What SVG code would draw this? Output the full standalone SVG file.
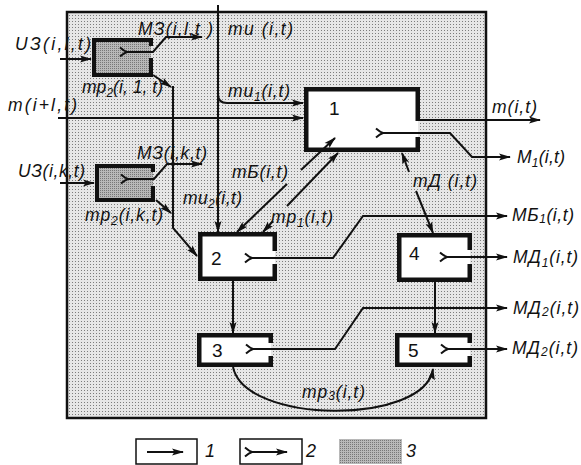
<svg xmlns="http://www.w3.org/2000/svg" width="581" height="465" viewBox="0 0 581 465">
<style>
.ln{fill:none;stroke:#111;stroke-width:2}
.bd{fill:none;stroke:#111;stroke-width:4.5;stroke-linejoin:miter}
.bdg{fill:none;stroke:#111;stroke-width:4;stroke-linejoin:miter}
.lb{font-family:"Liberation Sans",Arial,sans-serif;font-style:italic;font-size:17.5px;fill:#111}
.num{font-family:"Liberation Sans",Arial,sans-serif;font-size:19px;fill:#111}
.sub{font-size:12px}
</style>
<defs>
<pattern id="bg" width="3" height="3" patternUnits="userSpaceOnUse"><rect width="3" height="3" fill="#e6e6e6"/><rect width="1" height="1" fill="#7c7c7c"/></pattern>
<pattern id="dk" width="2" height="2" patternUnits="userSpaceOnUse"><rect width="2" height="2" fill="#b8b8b8"/><rect width="1" height="1" fill="#777"/></pattern>
<marker id="ar" viewBox="0 0 12 8" refX="11" refY="4" markerWidth="12" markerHeight="8" markerUnits="userSpaceOnUse" orient="auto-start-reverse"><path d="M0,0.5 L12,4 L0,7.5 L2.5,4 z" fill="#111"/></marker>
<marker id="fk" viewBox="-9 -6 11 12" refX="0" refY="0" markerWidth="11" markerHeight="12" markerUnits="userSpaceOnUse" orient="auto"><path d="M-7,-4.5 Q-3,-1 0,0 Q-3,1 -7,4.5" fill="none" stroke="#111" stroke-width="2"/></marker>
</defs>

<rect id="frame" x="67" y="12" width="419" height="406" fill="url(#bg)" stroke="#111" stroke-width="2.5"/>

<g id="gz1">
<rect x="94" y="40" width="57" height="35" fill="url(#dk)"/>
<path class="bdg" d="M151,46 V40 H94 V75 H151 V58"/>
</g>
<g id="gz2">
<rect x="97" y="166" width="56" height="34" fill="url(#dk)"/>
<path class="bdg" d="M153,172 V166 H97 V200 H153 V186"/>
</g>
<g id="box1">
<rect x="306" y="89" width="112" height="61" fill="#fff"/>
<path class="bd" d="M417.75,121 V89.25 H306.25 V149.75 H417.75 V137"/>
<text class="num" x="329" y="115">1</text>
</g>
<g id="box2">
<rect x="200" y="234" width="75" height="45" fill="#fff"/>
<path class="bd" d="M274.75,251 V234.25 H200.25 V278.75 H274.75 V264"/>
<text class="num" x="211" y="265">2</text>
</g>
<g id="box3">
<rect x="199" y="335" width="72" height="30" fill="#fff"/>
<path class="bd" d="M270.75,343 V335.25 H199.25 V364.75 H270.75 V356"/>
<text class="num" x="212" y="357">3</text>
</g>
<g id="box4">
<rect x="399" y="235" width="71" height="45" fill="#fff"/>
<path class="bd" d="M469.75,250 V235.25 H399.25 V279.75 H469.75 V264"/>
<text class="num" x="409" y="260">4</text>
</g>
<g id="box5">
<rect x="397" y="335" width="73" height="30" fill="#fff"/>
<path class="bd" d="M469.75,343 V335.25 H397.25 V364.75 H469.75 V356"/>
<text class="num" x="408" y="357">5</text>
</g>

<g id="connectors">
<path class="ln" d="M60,59 L91,59" marker-end="url(#ar)"/>
<path class="ln" d="M60,183 L94,183" marker-end="url(#ar)"/>
<path class="ln" d="M127,52 L153,52 L166,37 L202,37" marker-start="url(#fk)" marker-end="url(#ar)"/>
<path class="ln" d="M128,179 L154,179 L167,164 L202,164" marker-start="url(#fk)" marker-end="url(#ar)"/>
<path class="ln" d="M153,75 L171,87" marker-end="url(#ar)"/>
<path class="ln" d="M156,200 L171,213" marker-end="url(#ar)"/>
<path class="ln" d="M173,86 L173,228 L197,256" marker-end="url(#ar)"/>
<path class="ln" d="M58,118 L303,118" marker-end="url(#ar)"/>
<path class="ln" d="M218,5 L218,232" marker-end="url(#ar)"/>
<path class="ln" d="M218,94 Q218,103 227,103 L303,103" marker-end="url(#ar)"/>
<path class="ln" d="M418,120 L540,120" marker-end="url(#ar)"/>
<path class="ln" d="M383,133 L450,133 L472,157 L510,157" marker-start="url(#fk)" marker-end="url(#ar)"/>
<path class="ln" d="M237,232 L287,184" marker-start="url(#ar)"/>
<path class="ln" d="M301,170 L335,138" marker-end="url(#ar)"/>
<path class="ln" d="M263,232 L273,221" marker-start="url(#ar)"/>
<path class="ln" d="M287,206 L338,153" marker-end="url(#ar)"/>
<path class="ln" d="M402,153 L409,172" marker-start="url(#ar)"/>
<path class="ln" d="M416,191 L433,233" marker-end="url(#ar)"/>
<path class="ln" d="M252,258 L333,258 L363,216 L507,216" marker-start="url(#fk)" marker-end="url(#ar)"/>
<path class="ln" d="M447,257 L507,257" marker-start="url(#fk)" marker-end="url(#ar)"/>
<path class="ln" d="M233,281 L233,333" marker-end="url(#ar)"/>
<path class="ln" d="M435,282 L435,333" marker-end="url(#ar)"/>
<path class="ln" d="M253,349 L335,349 L363,308 L507,308" marker-start="url(#fk)" marker-end="url(#ar)"/>
<path class="ln" d="M448,349 L507,349" marker-start="url(#fk)" marker-end="url(#ar)"/>
<path class="ln" d="M233,367 C245,425 425,425 433,369" marker-end="url(#ar)"/>
</g>

<g id="labels">
<text class="lb" x="15" y="50" textLength="76" lengthAdjust="spacing">UЗ(i,l,t)</text>
<text class="lb" x="138" y="35" textLength="75" lengthAdjust="spacing">МЗ(i,l,t )</text>
<text class="lb" x="228" y="35" textLength="65" lengthAdjust="spacing">mu (i,t)</text>
<text class="lb" x="82" y="93" textLength="81" lengthAdjust="spacing">mp<tspan class="sub" dy="4">2</tspan><tspan dy="-4">(i, 1, t)</tspan></text>
<text class="lb" x="228" y="97" textLength="62" lengthAdjust="spacing">mu<tspan class="sub" dy="4">1</tspan><tspan dy="-4">(i,t)</tspan></text>
<text class="lb" x="8" y="111" textLength="69" lengthAdjust="spacing">m(i+l,t)</text>
<text class="lb" x="492" y="113" textLength="45" lengthAdjust="spacing">m(i,t)</text>
<text class="lb" x="517" y="163" textLength="48" lengthAdjust="spacing">M<tspan class="sub" dy="4">1</tspan><tspan dy="-4">(i,t)</tspan></text>
<text class="lb" x="137" y="159" textLength="70" lengthAdjust="spacing">МЗ(i,k,t)</text>
<text class="lb" x="18" y="177" textLength="67" lengthAdjust="spacing">UЗ(i,k,t)</text>
<text class="lb" x="232" y="178" textLength="56" lengthAdjust="spacing">mБ(i,t)</text>
<text class="lb" x="413" y="187" textLength="64" lengthAdjust="spacing">mД (i,t)</text>
<text class="lb" x="183" y="204" textLength="59" lengthAdjust="spacing">mu<tspan class="sub" dy="4">2</tspan><tspan dy="-4">(i,t)</tspan></text>
<text class="lb" x="85" y="221" textLength="78" lengthAdjust="spacing">mp<tspan class="sub" dy="4">2</tspan><tspan dy="-4">(i,k,t)</tspan></text>
<text class="lb" x="271" y="223" textLength="62" lengthAdjust="spacing">mp<tspan class="sub" dy="4">1</tspan><tspan dy="-4">(i,t)</tspan></text>
<text class="lb" x="512" y="221" textLength="62" lengthAdjust="spacing">МБ<tspan class="sub" dy="2">1</tspan><tspan dy="-2">(i,t)</tspan></text>
<text class="lb" x="513" y="263" textLength="65" lengthAdjust="spacing">МД<tspan class="sub" dy="4">1</tspan><tspan dy="-4">(i,t)</tspan></text>
<text class="lb" x="513" y="314" textLength="66" lengthAdjust="spacing">МД<tspan class="sub" dy="2">2</tspan><tspan dy="-2">(i,t)</tspan></text>
<text class="lb" x="512" y="354" textLength="66" lengthAdjust="spacing">МД<tspan class="sub" dy="2">2</tspan><tspan dy="-2">(i,t)</tspan></text>
<text class="lb" x="302" y="398" textLength="63" lengthAdjust="spacing">mp<tspan class="sub" dy="2">3</tspan><tspan dy="-2">(i,t)</tspan></text>
</g>

<g id="legend">
<rect x="136" y="439" width="61" height="25" fill="#fff" stroke="#111" stroke-width="1.5"/>
<path class="ln" d="M147,452 L183,452" marker-end="url(#ar)"/>
<text class="lb" x="205" y="457" style="font-size:18px">1</text>
<rect x="240" y="439" width="62" height="25" fill="#fff" stroke="#111" stroke-width="1.5"/>
<path class="ln" d="M252,452 L287,452" marker-start="url(#fk)" marker-end="url(#ar)"/>
<text class="lb" x="306" y="457" style="font-size:18px">2</text>
<rect x="339" y="439" width="63" height="25" fill="url(#dk)"/>
<text class="lb" x="406" y="457" style="font-size:18px">3</text>
</g>
</svg>
